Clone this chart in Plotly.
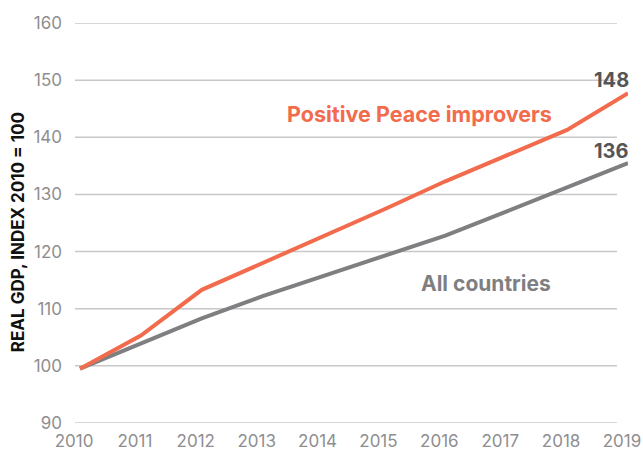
import plotly.graph_objects as go

years = [2010, 2011, 2012, 2013, 2014, 2015, 2016, 2017, 2018, 2019]
pp_improvers = [99.5, 105.3, 113.3, 118.0, 122.7, 127.4, 132.3, 136.8, 141.3, 147.7]
all_countries = [99.5, 103.9, 108.3, 112.2, 115.7, 119.2, 122.8, 127.0, 131.2, 135.5]
y_ticks = [90, 100, 110, 120, 130, 140, 150, 160]
x_ticks = years

ORANGE = "#F26B4C"
GRAY = "#7F7F82"
FONT = "Inter"

fig = go.Figure()
fig.add_trace(go.Scatter(x=years, y=all_countries, mode="lines",
                         line=dict(color=GRAY, width=4), cliponaxis=False,
                         hoverinfo="skip"))
fig.add_trace(go.Scatter(x=years, y=pp_improvers, mode="lines",
                         line=dict(color=ORANGE, width=4), cliponaxis=False,
                         hoverinfo="skip"))

shapes = []
for v in y_ticks:
    shapes.append(dict(type="line", xref="paper", yref="y", x0=0, x1=0.98,
                       y0=v, y1=v, line=dict(color="#C8C8C8", width=1.5),
                       layer="below"))

annotations = [
    dict(text="<b>Positive Peace improvers</b>", x=2015.57, y=144.1, xref="x", yref="y",
         showarrow=False, font=dict(family=FONT, size=21.5, color=ORANGE)),
    dict(text="<b>All countries</b>", x=2016.67, y=114.5, xref="x", yref="y",
         showarrow=False, font=dict(family=FONT, size=21, color=GRAY)),
    dict(text="<b>" + str(round(pp_improvers[-1])) + "</b>", x=years[-1], y=pp_improvers[-1],
         xref="x", yref="y", xshift=-16, yshift=13, showarrow=False,
         font=dict(family=FONT, size=20, color="#555557")),
    dict(text="<b>" + str(round(all_countries[-1])) + "</b>", x=years[-1], y=all_countries[-1],
         xref="x", yref="y", xshift=-16, yshift=12, showarrow=False,
         font=dict(family=FONT, size=20, color="#555557")),
    dict(text="<b>REAL GDP, INDEX 2010 = 100</b>", x=-0.103, y=123.4, xref="paper", yref="y",
         xanchor="center", yanchor="middle",
         textangle=-90, showarrow=False, font=dict(family=FONT, size=17, color="#111111")),
]

fig.update_layout(
    width=643, height=450,
    margin=dict(l=75, r=15, t=23, b=27, autoexpand=False),
    paper_bgcolor="white", plot_bgcolor="white",
    showlegend=False,
    shapes=shapes, annotations=annotations,
    font=dict(family=FONT, color="#8E8E90", size=17),
    xaxis=dict(range=[2009.918, 2019.0001], tickvals=x_ticks,
               ticktext=[str(x) for x in x_ticks], showgrid=False, zeroline=False,
               showline=False, ticks="", ticklabelshift=-6, ticklabelstandoff=6,
               ticklabeloverflow="allow",
               tickfont=dict(family=FONT, size=17, color="#8E8E90")),
    yaxis=dict(range=[90, 160], tickvals=y_ticks, showgrid=False, zeroline=False,
               showline=False, ticks="", ticklabelstandoff=12,
               tickfont=dict(family=FONT, size=17, color="#8E8E90")),
)

fig.write_html("out.html",
               config={"displayModeBar": False},
               post_script="document.body.style.margin='0';document.body.style.overflow='hidden';")
